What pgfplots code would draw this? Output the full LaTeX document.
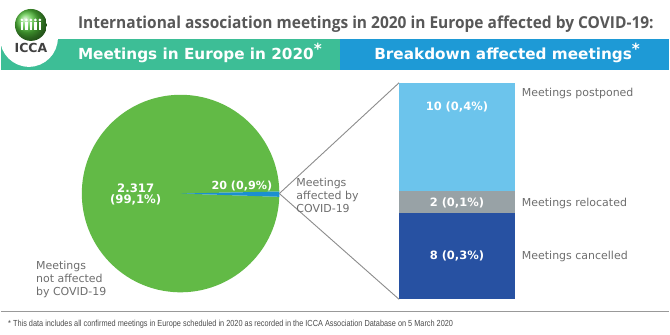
\documentclass[border=0pt]{standalone}
\usepackage{pgfplots}
\pgfplotsset{compat=1.18}
\usepackage{graphicx}
\usepackage{fontspec}
\setmainfont{DejaVu Sans}
\newfontfamily\titlefont{Open Sans}
\newfontfamily\footfont{Liberation Sans}
\definecolor{bannergreen}{RGB}{61,190,150}
\definecolor{bannerblue}{RGB}{30,154,214}
\definecolor{piegreen}{RGB}{98,186,70}
\definecolor{wedgeblue}{RGB}{27,143,208}
\definecolor{lightbar}{RGB}{108,196,236}
\definecolor{graybar}{RGB}{152,162,166}
\definecolor{darkbar}{RGB}{39,81,162}
\definecolor{labelgray}{RGB}{110,110,110}
\definecolor{titlegray}{RGB}{88,88,88}
\definecolor{linegray}{RGB}{140,140,140}
\def\notaff{2317}
\def\aff{20}
\begin{document}
\begin{tikzpicture}[x=1pt,y=1pt]
\fill[white] (0,0) rectangle (670,335);
% banner
\fill[bannergreen] (0,296) rectangle (340,265);
\fill[bannerblue] (340,296) rectangle (670,265);
% logo
\fill[white] (28,297) circle (29);
\shade[ball color=piegreen!85!green] (30,310) circle (16);
\foreach \px in {21,25.5,30,34.5,39}{
  \fill[white] (\px,315) circle (1.5);
  \fill[white] (\px-1.3,305) rectangle (\px+1.3,313);
}
\node[anchor=base, inner sep=0, text=black!75, font=\fontsize{12.5}{13}\selectfont\bfseries] at (30,282) {ICCA};
% title
\node[anchor=base west, inner sep=0, text=titlegray] at (77,306) {\resizebox{577pt}{\height}{\titlefont\fontsize{16.5}{18}\selectfont\bfseries International association meetings in 2020 in Europe affected by COVID-19:}};
% banner texts
\node[anchor=base west, inner sep=0, text=white, font=\fontsize{15.3}{16}\selectfont\bfseries] at (77,275) {Meetings in Europe in 2020\raisebox{5pt}{*}};
\node[anchor=base west, inner sep=0, text=white, font=\fontsize{15.3}{16}\selectfont\bfseries] at (374,275) {Breakdown affected meetings\raisebox{5pt}{*}};
% pie
\begin{axis}[at={(180pt,141pt)}, anchor=center, scale only axis, width=198pt, height=198pt,
  xmin=-1, xmax=1, ymin=-1, ymax=1, hide axis, clip=false]
\pgfmathsetmacro\astart{-1.9}
\pgfmathsetmacro\aspan{360*\aff/(\aff+\notaff)}
\pgfmathsetmacro\aend{\astart+\aspan}
\pgfmathsetmacro\gend{\astart+360}
\fill[piegreen] (axis cs:0,0) -- ++(\aend:99pt) arc[start angle=\aend, end angle=\gend, radius=99pt] -- cycle;
\fill[wedgeblue] (axis cs:0,0) -- ++(\astart:99pt) arc[start angle=\astart, end angle=\aend, radius=99pt] -- cycle;
\end{axis}
% bar
\begin{axis}[at={(399pt,35pt)}, anchor=south west, scale only axis, width=116pt, height=217pt,
  xmin=0.5, xmax=1.5, ymin=0, ymax=20, hide axis, ybar stacked, bar width=116pt, clip=false]
\addplot[fill=darkbar, draw=none] coordinates {(1,8)};
\addplot[fill=graybar, draw=none] coordinates {(1,2)};
\addplot[fill=lightbar, draw=none] coordinates {(1,10)};
\coordinate (lc) at (axis cs:1,4);
\coordinate (lr) at (axis cs:1,8.9);
\coordinate (lp) at (axis cs:1,17.8);
\end{axis}
\node[text=white, font=\fontsize{11.5}{12}\selectfont\bfseries] at (lc) {8 (0,3\%)};
\node[text=white, font=\fontsize{11.5}{12}\selectfont\bfseries] at (lr) {2 (0,1\%)};
\node[text=white, font=\fontsize{11.5}{12}\selectfont\bfseries] at (lp) {10 (0,4\%)};
% connectors
\draw[linegray, line width=0.9] (279,141) -- (399,252);
\draw[linegray, line width=0.9] (279,141) -- (399,35);
% pie labels
\node[text=white, font=\fontsize{11.7}{12}\selectfont\bfseries, align=center, inner sep=0] at (135,140) {2.317\\[-1pt](99,1\%)};
\node[text=white, font=\fontsize{11.2}{12}\selectfont\bfseries, anchor=east, inner sep=0] at (272,149) {20 (0,9\%)};
\node[text=labelgray, font=\fontsize{11}{13.3}\selectfont, align=left, anchor=west, inner sep=0] at (296,139) {Meetings\\affected by\\COVID-19};
\node[text=labelgray, font=\fontsize{11}{13.3}\selectfont, align=left, anchor=west, inner sep=0] at (35,55) {Meetings\\not affected\\by COVID-19};
% bar labels
\node[text=labelgray, font=\fontsize{11}{13}\selectfont, anchor=west, inner sep=0] at (522,241) {Meetings postponed};
\node[text=labelgray, font=\fontsize{11}{13}\selectfont, anchor=west, inner sep=0] at (522,131) {Meetings relocated};
\node[text=labelgray, font=\fontsize{11}{13}\selectfont, anchor=west, inner sep=0] at (522,78) {Meetings cancelled};
% footer
\draw[black!40, line width=1.2] (0,23) -- (670,23);
\node[anchor=west, inner sep=0, text=black!70] at (7,10) {\resizebox{446pt}{\height}{\footfont\fontsize{8.8}{10}\selectfont * This data includes all confirmed meetings in Europe scheduled in 2020 as recorded in the ICCA Association Database on 5 March 2020}};
\end{tikzpicture}
\end{document}
